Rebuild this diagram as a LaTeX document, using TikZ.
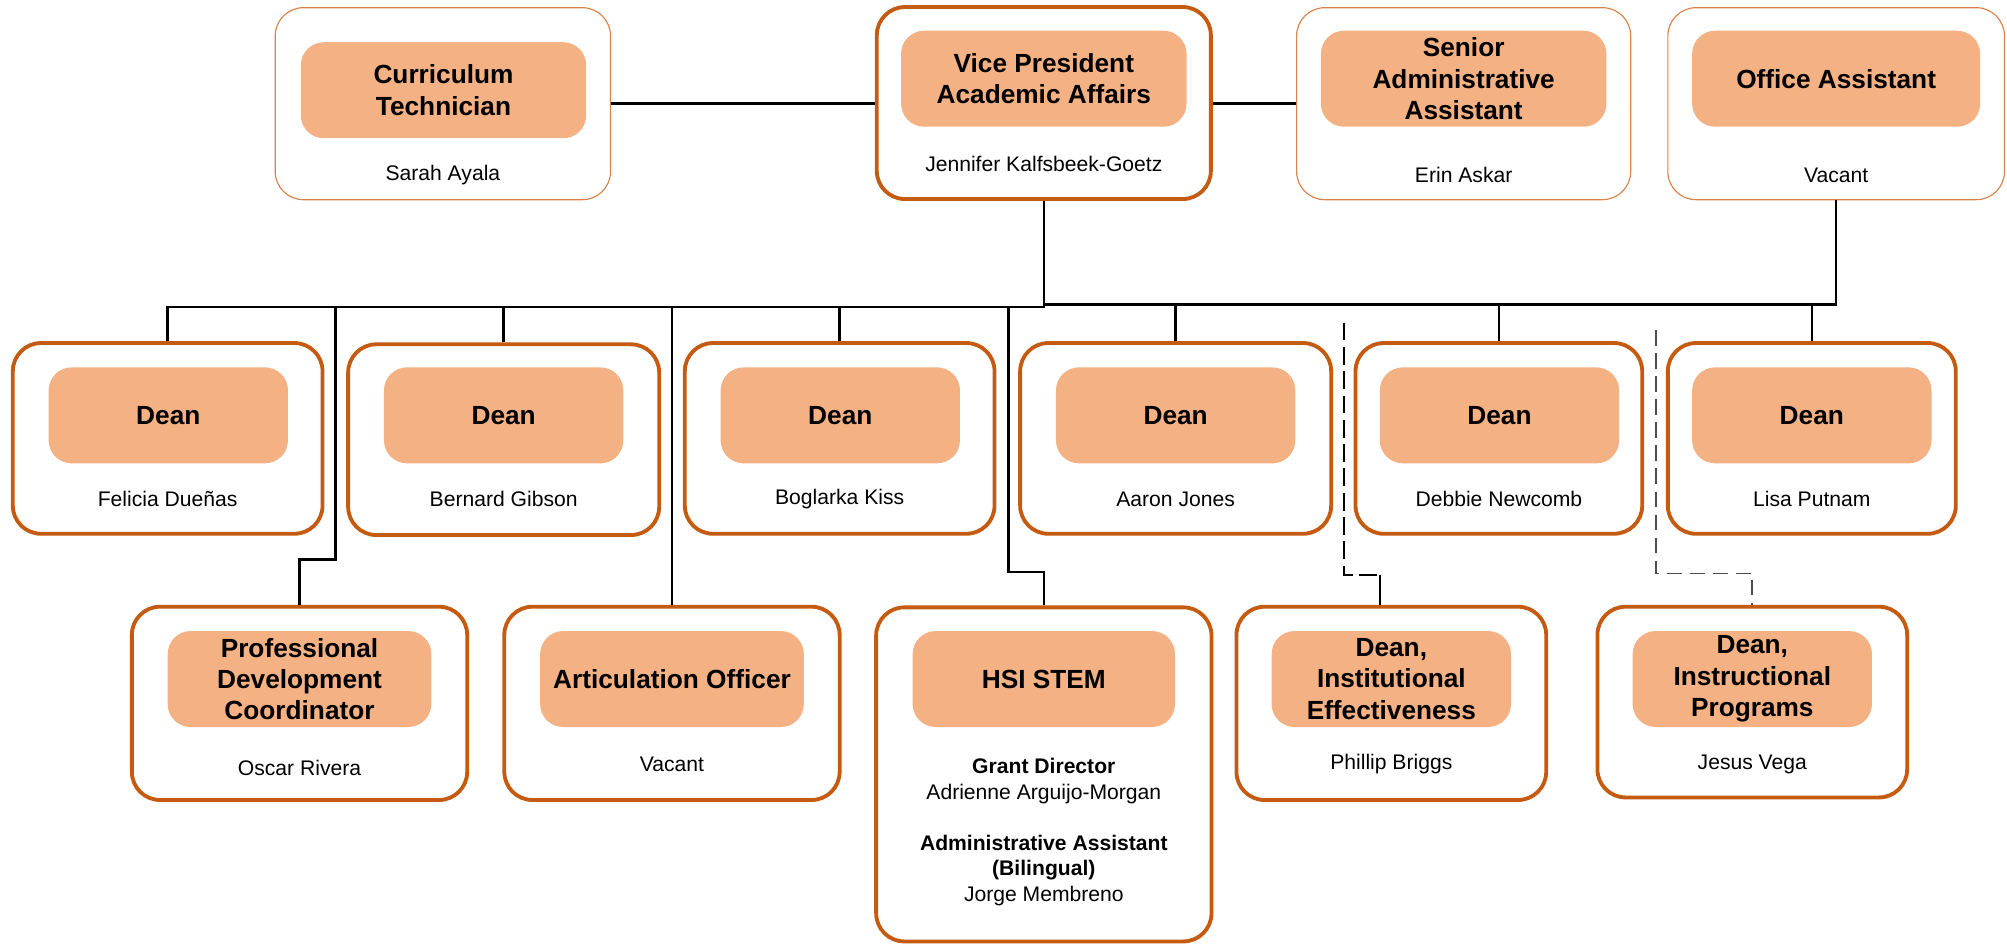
\documentclass[tikz,border=0pt]{standalone}
\usepackage{fontspec}
\setmainfont{Liberation Sans}
\definecolor{ob}{HTML}{C55A11}
\definecolor{obl}{HTML}{D9824A}
\definecolor{of}{HTML}{F4B183}
\begin{document}
\begin{tikzpicture}[x=1pt,y=-1pt,
  card/.style={draw=ob, line width=3pt, rounded corners=22pt, fill=white, inner sep=0pt},
  thincard/.style={draw=obl, line width=0.9pt, rounded corners=22pt, fill=white, inner sep=0pt},
  ttl/.style={fill=of, rounded corners=18pt, inner sep=0pt, align=center, font=\fontsize{20.5}{24.5}\selectfont\bfseries},
  nm/.style={font=\fontsize{16.5}{20}\selectfont, inner sep=0pt, align=center},
  link/.style={line width=2pt},
  dlinkA/.style={line width=1.5pt, dash pattern=on 14pt off 5pt},
  dlinkB/.style={line width=1.3pt, draw=black!70, dash pattern=on 12pt off 6pt}]
\useasboundingbox (0,0) rectangle (1568,737);

% ---------- top row ----------
\node[thincard, minimum width=262pt, minimum height=150pt] (ct) at (346,81) {};
\node[ttl, minimum width=223pt, minimum height=75pt] (ctT) at (346.5,70.5) {Curriculum\\Technician};
\node[nm] (ctN) at (346,137) {Sarah Ayala};

\node[card, minimum width=261pt, minimum height=150pt] (vp) at (815.5,80.5) {};
\node[ttl, minimum width=223pt, minimum height=75pt] (vpT) at (815.5,61.5) {Vice President\\Academic Affairs};
\node[nm] (vpN) at (815.5,128) {Jennifer Kalfsbeek-Goetz};

\node[thincard, minimum width=261pt, minimum height=150pt] (sa) at (1143.5,81) {};
\node[ttl, minimum width=223pt, minimum height=75pt] (saT) at (1143.5,61.5) {Senior\\Administrative\\Assistant};
\node[nm] (saN) at (1143.5,137) {Erin Askar};

\node[thincard, minimum width=263pt, minimum height=150pt] (oa) at (1434.5,81) {};
\node[ttl, minimum width=225pt, minimum height=75pt] (oaT) at (1434.5,61.5) {Office Assistant};
\node[nm] (oaN) at (1434.5,137) {Vacant};

% ---------- dean row ----------
\node[card, minimum width=242pt, minimum height=149pt] (d1) at (131,342.5) {};
\node[ttl, minimum width=187pt, minimum height=75pt] (d1T) at (131.5,324.5) {Dean};
\node[nm] (d1N) at (131,390) {Felicia Dueñas};

\node[card, minimum width=243pt, minimum height=149pt] (d2) at (393.5,343.5) {};
\node[ttl, minimum width=187pt, minimum height=75pt] (d2T) at (393.5,324.5) {Dean};
\node[nm] (d2N) at (393.5,390) {Bernard Gibson};

\node[card, minimum width=242pt, minimum height=149pt] (d3) at (656,342.5) {};
\node[ttl, minimum width=187pt, minimum height=75pt] (d3T) at (656.5,324.5) {Dean};
\node[nm] (d3N) at (656,390) {Boglarka Kiss};

\node[card, minimum width=243pt, minimum height=149pt] (d4) at (918.5,342.5) {};
\node[ttl, minimum width=187pt, minimum height=75pt] (d4T) at (918.5,324.5) {Dean};
\node[nm] (d4N) at (918.5,390) {Aaron Jones};

\node[card, minimum width=224pt, minimum height=149pt] (d5) at (1171,342.5) {};
\node[ttl, minimum width=187pt, minimum height=75pt] (d5T) at (1171.5,324.5) {Dean};
\node[nm] (d5N) at (1171,390) {Debbie Newcomb};

\node[card, minimum width=225pt, minimum height=149pt] (d6) at (1415.5,342.5) {};
\node[ttl, minimum width=187pt, minimum height=75pt] (d6T) at (1415.5,324.5) {Dean};
\node[nm] (d6N) at (1415.5,390) {Lisa Putnam};

% ---------- bottom row ----------
\node[card, minimum width=262pt, minimum height=151pt] (pd) at (234,549.5) {};
\node[ttl, minimum width=206pt, minimum height=75pt] (pdT) at (234,530.5) {Professional\\Development\\Coordinator};
\node[nm] (pdN) at (234,600) {Oscar Rivera};

\node[card, minimum width=262pt, minimum height=151pt] (ao) at (525,549.5) {};
\node[ttl, minimum width=206pt, minimum height=75pt] (aoT) at (525,530.5) {Articulation Officer};
\node[nm] (aoN) at (525,597) {Vacant};

\node[card, minimum width=262pt, minimum height=261pt] (hsi) at (815.5,605) {};
\node[ttl, minimum width=205pt, minimum height=75pt] (hsiT) at (815.5,530.5) {HSI STEM};
\node[nm] (hsiN) at (815.5,650) {\textbf{Grant Director}\\Adrienne Arguijo-Morgan\\[20pt]\textbf{Administrative Assistant}\\\textbf{(Bilingual)}\\Jorge Membreno};

\node[card, minimum width=242pt, minimum height=151pt] (ie) at (1087,549.5) {};
\node[ttl, minimum width=187pt, minimum height=75pt] (ieT) at (1087,530.5) {Dean,\\Institutional\\Effectiveness};
\node[nm] (ieN) at (1087,597) {Phillip Briggs};

\node[card, minimum width=242pt, minimum height=149pt] (ip) at (1369,548.5) {};
\node[ttl, minimum width=187pt, minimum height=75pt] (ipT) at (1369,530.5) {Dean,\\Instructional\\Programs};
\node[nm] (ipN) at (1369,597) {Jesus Vega};

% ---------- connectors ----------
\coordinate (busL) at (0,240);
\coordinate (busR) at (0,238);
\coordinate (vpB) at (vp.south |- busL);
\coordinate (oaB) at (oa.south |- busR);
\coordinate (d1B) at (d1.north |- busL);
\coordinate (pdB) at (262,240);
\coordinate (pdK) at (262,437);
\coordinate (aoB) at (ao.north |- busL);
\coordinate (hsiB) at (788,240);
\coordinate (hsiK) at (788,447);
\coordinate (ieA) at (1050,252);
\coordinate (ieK) at (1050,449);
\coordinate (ieM) at (1078,449);
\coordinate (ipA) at (1294,258);
\coordinate (ipK) at (1294,448);

\draw[link] (ct.east) -- (ct.east -| vp.west);
\draw[link] (vp.east |- sa.west) -- (sa.west);
\draw[link] (vp.south) -- (vpB) -- (d1B) -- (d1.north);
\draw[link] (vp.south |- busR) -- (oaB) -- (oa.south);
\draw[link] (d2.north |- busL) -- (d2.north);
\draw[link] (d3.north |- busL) -- (d3.north);
\draw[link] (d4.north |- busR) -- (d4.north);
\draw[link] (d5.north |- busR) -- (d5.north);
\draw[link] (d6.north |- busR) -- (d6.north);
\draw[link] (pdB) -- (pdK) -- (pdK -| pd.north) -- (pd.north);
\draw[link] (aoB) -- (ao.north);
\draw[link] (hsiB) -- (hsiK) -- (hsiK -| hsi.north) -- (hsi.north);
\draw[dlinkA] (ieA) -- (ieK) -- (ieM);
\draw[line width=1.5pt] (ieM) -- (ieM |- ie.north);
\draw[dlinkB] (ipA) -- (ipK) -- (ipK -| ip.north) -- (ip.north);
\end{tikzpicture}
\end{document}
